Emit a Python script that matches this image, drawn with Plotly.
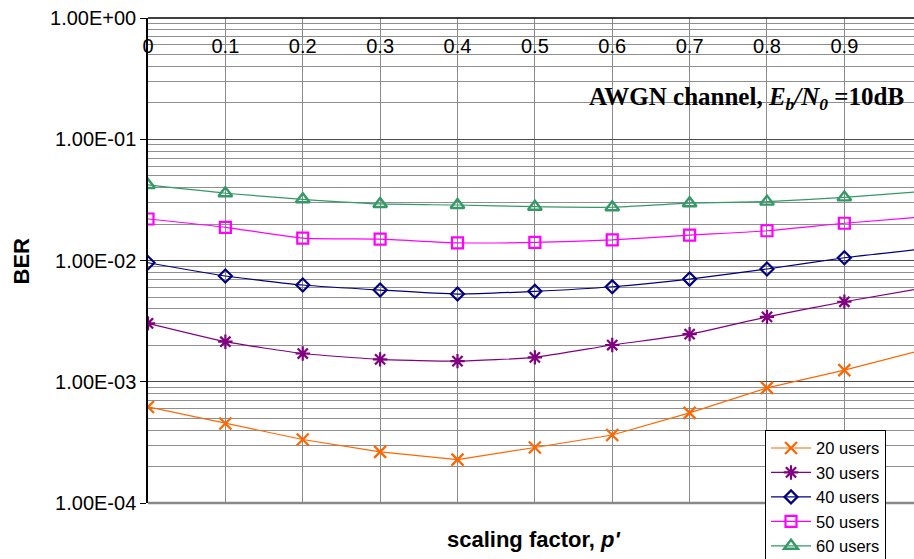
import plotly.graph_objects as go

# scaling factor p'
p_values = [0.0, 0.1, 0.2, 0.3, 0.4, 0.5, 0.6, 0.7, 0.8, 0.9, 1.0]

# BER for each number of users (AWGN channel, Eb/N0 = 10 dB)
ber_20_users = [0.000620, 0.000452, 0.000334, 0.000264, 0.000228, 0.000287,
                0.000364, 0.000554, 0.000890, 0.001247, 0.001824]
ber_30_users = [0.00303, 0.00214, 0.00171, 0.00153, 0.00148, 0.00159,
                0.00201, 0.00247, 0.00343, 0.00457, 0.00591]
ber_40_users = [0.00959, 0.00745, 0.00628, 0.00571, 0.00529, 0.00557,
                0.00608, 0.00703, 0.00851, 0.01054, 0.01247]
ber_50_users = [0.0220, 0.0188, 0.0153, 0.0150, 0.0140, 0.0141,
                0.0148, 0.0162, 0.0176, 0.0203, 0.0229]
ber_60_users = [0.0420, 0.0359, 0.0320, 0.0293, 0.0287, 0.0278,
                0.0275, 0.0297, 0.0306, 0.0332, 0.0370]

series_names = ["20 users", "30 users", "40 users", "50 users", "60 users"]

x_tick_vals = [0.0, 0.1, 0.2, 0.3, 0.4, 0.5, 0.6, 0.7, 0.8, 0.9]
x_tick_text = ["0", "0.1", "0.2", "0.3", "0.4", "0.5", "0.6", "0.7", "0.8", "0.9"]
y_tick_vals = [1e-4, 1e-3, 1e-2, 1e-1, 1e0]
y_tick_text = ["1.00E-04", "1.00E-03", "1.00E-02", "1.00E-01", "1.00E+00"]
y_minor_vals = [m * 10.0 ** e for e in range(-4, 0) for m in range(2, 10)]

styles = [
    dict(color="#FF6600", symbol="x-thin-open", size=12, width=2.2, shape="linear"),
    dict(color="#800080", symbol="asterisk-open", size=12, width=2.2, shape="spline"),
    dict(color="#000080", symbol="diamond-open", size=10, width=2.2, shape="spline"),
    dict(color="#FF00FF", symbol="square-open", size=11, width=2.2, shape="spline"),
    dict(color="#339966", symbol="triangle-up-open", size=12, width=2.4, shape="spline"),
]

font_family = "Liberation Sans, Arial, Helvetica, sans-serif"

fig = go.Figure()
for name, ys, st in zip(series_names,
                        [ber_20_users, ber_30_users, ber_40_users, ber_50_users, ber_60_users],
                        styles):
    fig.add_trace(go.Scatter(
        x=p_values, y=ys, name=name, mode="lines+markers",
        line=dict(color=st["color"], width=1.2, shape=st["shape"], smoothing=0.5),
        marker=dict(symbol=st["symbol"], size=st["size"], color=st["color"],
                    line=dict(color=st["color"], width=st["width"])),
    ))

fig.update_layout(
    width=914, height=559,
    margin=dict(l=148, r=0, t=18, b=56, autoexpand=False),
    paper_bgcolor="white", plot_bgcolor="white",
    font=dict(family=font_family, size=20, color="black"),
    showlegend=True,
    legend=dict(
        x=0.8055, y=0.151, xanchor="left", yanchor="top",
        bgcolor="white", bordercolor="black", borderwidth=1,
        font=dict(size=16.5), tracegroupgap=0, itemwidth=40,
    ),
    xaxis=dict(
        range=[0, 0.99], anchor="free", position=0.92, side="top",
        tickmode="array", tickvals=x_tick_vals, ticktext=x_tick_text,
        ticks="", showgrid=True, gridcolor="#8a8a8a", gridwidth=1,
        showline=False, zeroline=False, tickfont=dict(size=20),
    ),
    yaxis=dict(
        type="log", range=[-4, 0.0005],
        tickmode="array", tickvals=y_tick_vals, ticktext=y_tick_text,
        ticks="outside", ticklen=6, tickcolor="black", tickwidth=1,
        showgrid=True, gridcolor="#4a4a4a", gridwidth=1,
        minor=dict(tickmode="array", tickvals=y_minor_vals, showgrid=True,
                   gridcolor="#8f8f8f", gridwidth=1, ticks=""),
        showline=True, linecolor="black", linewidth=1.5,
        zeroline=False, tickfont=dict(size=20),
    ),
)

# frame lines of the plot area: black top edge, grey bottom edge
fig.add_shape(type="line", xref="paper", yref="paper", x0=0, x1=1, y0=1, y1=1,
              line=dict(color="black", width=1.5))
fig.add_shape(type="line", xref="paper", yref="paper", x0=0, x1=1, y0=0, y1=0,
              line=dict(color="#888888", width=2.5))

fig.add_annotation(
    xref="paper", yref="paper", x=-0.1645, y=0.5, xanchor="center", yanchor="middle",
    text="<b>BER</b>", textangle=-90, showarrow=False,
    font=dict(size=22, family=font_family),
)

fig.add_annotation(
    xref="paper", yref="paper", x=0.504, y=-0.076, xanchor="center", yanchor="middle",
    text="<b>scaling factor, <i>p'</i></b>", showarrow=False,
    font=dict(size=22, family=font_family),
)

fig.add_annotation(
    xref="paper", yref="paper", x=0.99, y=0.835, xanchor="right", yanchor="middle",
    text="<b>AWGN channel, <i>E<sub>b</sub>/N<sub>0</sub></i> =10dB</b>", showarrow=False,
    font=dict(size=25, family="Liberation Serif, Times New Roman, serif"),
)

fig.write_html("out.html")
